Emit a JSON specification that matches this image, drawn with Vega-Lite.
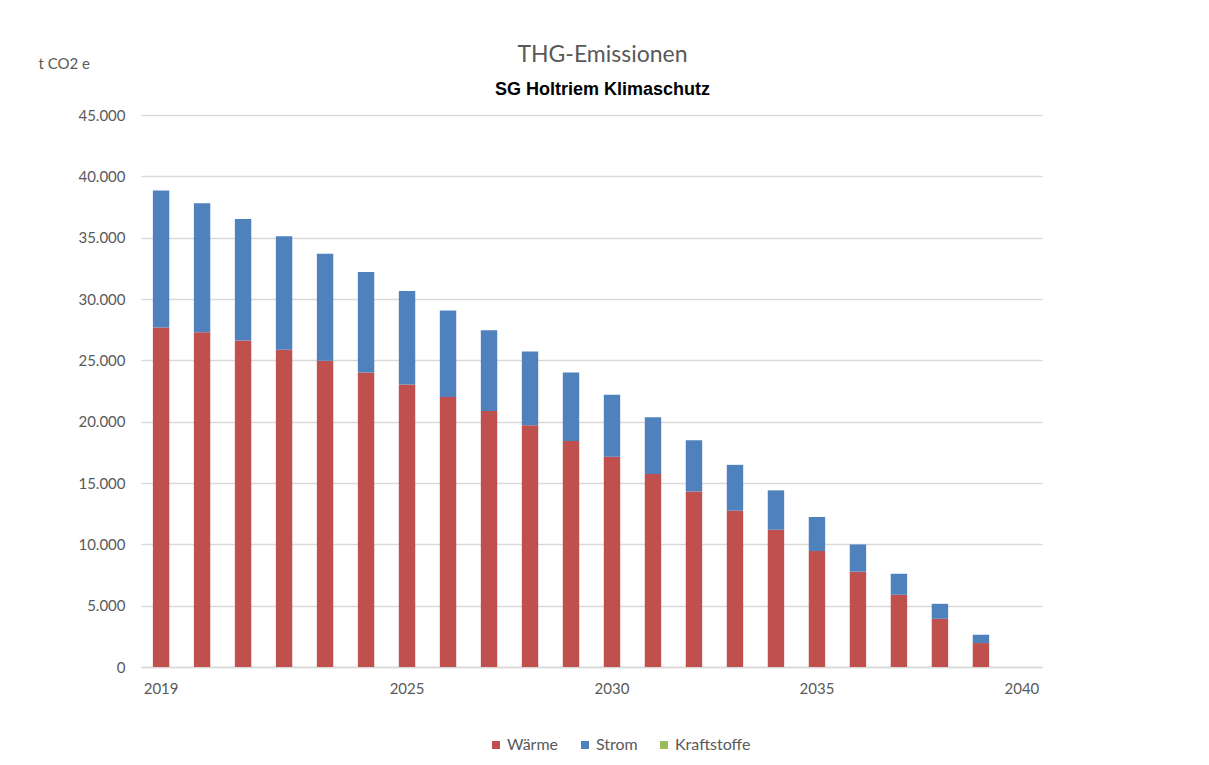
{
  "$schema": "https://vega.github.io/schema/vega-lite/v6.json",
  "width": 901,
  "height": 552,
  "autosize": "none",
  "padding": {"left": 141, "top": 115, "right": 167, "bottom": 98},
  "background": "white",
  "title": {
    "text": "THG-Emissionen",
    "subtitle": "SG Holtriem Klimaschutz",
    "anchor": "middle",
    "dx": 11,
    "offset": -43,
    "font": "Lato",
    "fontSize": 23,
    "fontWeight": "normal",
    "color": "#595959",
    "subtitleFont": "Liberation Sans",
    "subtitleFontSize": 18,
    "subtitleFontWeight": "bold",
    "subtitleColor": "#000000",
    "subtitlePadding": 14
  },
  "data": {
    "values": [
      {"year": "2019", "cat": "Wärme", "value": 27670}, {"year": "2019", "cat": "Strom", "value": 11170},
      {"year": "2020", "cat": "Wärme", "value": 27290}, {"year": "2020", "cat": "Strom", "value": 10510},
      {"year": "2021", "cat": "Wärme", "value": 26610}, {"year": "2021", "cat": "Strom", "value": 9920},
      {"year": "2022", "cat": "Wärme", "value": 25870}, {"year": "2022", "cat": "Strom", "value": 9240},
      {"year": "2023", "cat": "Wärme", "value": 24970}, {"year": "2023", "cat": "Strom", "value": 8710},
      {"year": "2024", "cat": "Wärme", "value": 24000}, {"year": "2024", "cat": "Strom", "value": 8210},
      {"year": "2025", "cat": "Wärme", "value": 23040}, {"year": "2025", "cat": "Strom", "value": 7620},
      {"year": "2026", "cat": "Wärme", "value": 22010}, {"year": "2026", "cat": "Strom", "value": 7060},
      {"year": "2027", "cat": "Wärme", "value": 20870}, {"year": "2027", "cat": "Strom", "value": 6580},
      {"year": "2028", "cat": "Wärme", "value": 19700}, {"year": "2028", "cat": "Strom", "value": 6010},
      {"year": "2029", "cat": "Wärme", "value": 18420}, {"year": "2029", "cat": "Strom", "value": 5580},
      {"year": "2030", "cat": "Wärme", "value": 17150}, {"year": "2030", "cat": "Strom", "value": 5050},
      {"year": "2031", "cat": "Wärme", "value": 15740}, {"year": "2031", "cat": "Strom", "value": 4610},
      {"year": "2032", "cat": "Wärme", "value": 14310}, {"year": "2032", "cat": "Strom", "value": 4170},
      {"year": "2033", "cat": "Wärme", "value": 12740}, {"year": "2033", "cat": "Strom", "value": 3740},
      {"year": "2034", "cat": "Wärme", "value": 11190}, {"year": "2034", "cat": "Strom", "value": 3210},
      {"year": "2035", "cat": "Wärme", "value": 9450}, {"year": "2035", "cat": "Strom", "value": 2780},
      {"year": "2036", "cat": "Wärme", "value": 7770}, {"year": "2036", "cat": "Strom", "value": 2220},
      {"year": "2037", "cat": "Wärme", "value": 5890}, {"year": "2037", "cat": "Strom", "value": 1710},
      {"year": "2038", "cat": "Wärme", "value": 3930}, {"year": "2038", "cat": "Strom", "value": 1220},
      {"year": "2039", "cat": "Wärme", "value": 1950}, {"year": "2039", "cat": "Strom", "value": 680},
      {"year": "2040", "cat": "Wärme", "value": 0}, {"year": "2040", "cat": "Strom", "value": 0},
      {"year": "2040", "cat": "Kraftstoffe", "value": 0}
    ]
  },
  "transform": [
    {"calculate": "indexof(['Wärme','Strom','Kraftstoffe'], datum.cat)", "as": "ord"}
  ],
  "mark": {"type": "bar"},
  "encoding": {
    "x": {
      "field": "year",
      "type": "ordinal",
      "scale": {"paddingInner": 0.6, "paddingOuter": 0.29},
      "axis": {
        "title": null,
        "values": ["2019", "2025", "2030", "2035", "2040"],
        "labelAngle": 0,
        "labelFont": "Lato",
        "labelFontSize": 15,
        "labelColor": "#595959",
        "labelPadding": 14,
        "ticks": false,
        "domainColor": "#D9D9D9",
        "domainWidth": 1.5
      }
    },
    "y": {
      "field": "value",
      "type": "quantitative",
      "stack": "zero",
      "scale": {"domain": [0, 45000]},
      "axis": {
        "title": "t CO2 e",
        "titleAngle": 0,
        "titleAlign": "left",
        "titleBaseline": "middle",
        "titleX": -103,
        "titleY": -52,
        "titleFont": "Lato",
        "titleFontSize": 15,
        "titleFontWeight": "normal",
        "titleColor": "#595959",
        "values": [0, 5000, 10000, 15000, 20000, 25000, 30000, 35000, 40000, 45000],
        "labelExpr": "replace(format(datum.value, ','), ',', '.')",
        "labelFont": "Lato",
        "labelFontSize": 15,
        "labelColor": "#595959",
        "labelPadding": 16,
        "ticks": false,
        "domain": false,
        "gridColor": "#D9D9D9",
        "gridWidth": 1.5
      }
    },
    "color": {
      "field": "cat",
      "type": "nominal",
      "scale": {"domain": ["Wärme", "Strom", "Kraftstoffe"], "range": ["#C0504D", "#4F81BD", "#9BBB59"]},
      "legend": {
        "title": null,
        "orient": "none",
        "direction": "horizontal",
        "legendX": 347,
        "legendY": 622,
        "symbolType": "square",
        "symbolSize": 64,
        "symbolStrokeWidth": 0,
        "labelFont": "Lato",
        "labelFontSize": 16,
        "labelColor": "#595959",
        "labelOffset": 3,
        "columnPadding": 18,
        "padding": 0
      }
    },
    "order": {"field": "ord", "type": "quantitative"}
  },
  "config": {
    "view": {"stroke": null}
  }
}
